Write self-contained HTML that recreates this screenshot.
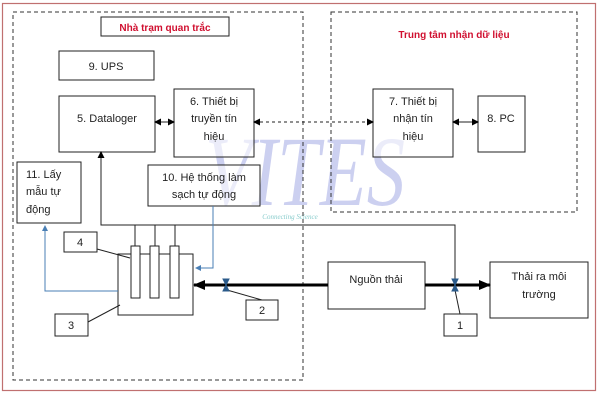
<!DOCTYPE html><html><head><meta charset="utf-8"><style>
body{margin:0;width:602px;height:401px;background:#fff;overflow:hidden;font-family:"Liberation Sans",sans-serif}
</style></head><body>
<svg width="602" height="401" viewBox="0 0 602 401" xmlns="http://www.w3.org/2000/svg" font-family="Liberation Sans, sans-serif">
<defs>
<marker id="a" markerUnits="userSpaceOnUse" markerWidth="12" markerHeight="10" refX="11" refY="5" orient="auto"><path d="M0,0L12,5L0,10z" fill="#000"/></marker>
<marker id="b" markerUnits="userSpaceOnUse" markerWidth="6" markerHeight="6" refX="5" refY="3" orient="auto"><path d="M0,0L6,3L0,6z" fill="#4a7fb5"/></marker>
<marker id="t" markerUnits="userSpaceOnUse" markerWidth="7" markerHeight="7" refX="6" refY="3.5" orient="auto-start-reverse"><path d="M0,0L7,3.5L0,7z" fill="#000"/></marker>
</defs>
<rect x="2.5" y="3.5" width="593" height="387" fill="none" stroke="#c07070" stroke-width="1.2"/>
<text x="305" y="205" font-family="Liberation Serif, serif" font-style="italic" font-size="100" fill="#c4c8ee" text-anchor="middle" opacity="0.85" textLength="200" lengthAdjust="spacingAndGlyphs">VITES</text>
<text x="290" y="219" font-family="Liberation Serif, serif" font-style="italic" font-size="7" fill="#8cc" text-anchor="middle">Connecting Science</text>
<g fill="none" stroke="#333" stroke-dasharray="4,3">
<rect x="13" y="12" width="290" height="368"/>
<rect x="331" y="12" width="246" height="200"/>
</g>
<g fill="#fff" stroke="#222" stroke-width="1">
<rect x="101" y="17" width="128" height="19"/>
<rect x="59" y="51" width="95" height="29"/>
<rect x="59" y="96" width="96" height="56"/>
<rect x="174" y="89" width="80" height="68" fill-opacity="0.6"/>
<rect x="373" y="89" width="80" height="68" fill-opacity="0.6"/>
<rect x="478" y="96" width="47" height="56"/>
<rect x="17" y="162" width="64" height="61"/>
<rect x="148" y="165" width="112" height="41" fill-opacity="0.6"/>
<rect x="328" y="262" width="97" height="47"/>
<rect x="490" y="262" width="98" height="56"/>
<rect x="64" y="232" width="33" height="20"/>
<rect x="55" y="314" width="33" height="22"/>
<rect x="246" y="300" width="32" height="20"/>
<rect x="444" y="314" width="33" height="22"/>
</g>
<g font-size="11" fill="#222" text-anchor="middle">
<text x="165" y="31" fill="#d01030" font-weight="bold" font-size="10">Nhà trạm quan trắc</text>
<text x="454" y="38" fill="#d01030" font-weight="bold" font-size="10">Trung tâm nhận dữ liệu</text>
<text x="106" y="70">9. UPS</text>
<text x="107" y="122">5. Dataloger</text>
<text x="214" y="105">6. Thiết bị</text><text x="214" y="122">truyền tín</text><text x="214" y="140">hiệu</text>
<text x="413" y="105">7. Thiết bị</text><text x="413" y="122">nhận tín</text><text x="413" y="140">hiệu</text>
<text x="501" y="122">8. PC</text>
<text x="204" y="181">10. Hệ thống làm</text><text x="204" y="198">sạch tự động</text>
<text x="376" y="283">Nguồn thải</text>
<text x="539" y="280">Thải ra môi</text><text x="539" y="298">trường</text>
<text x="80" y="246">4</text><text x="71" y="329">3</text><text x="262" y="314">2</text><text x="460" y="329">1</text>
</g>
<g font-size="11" fill="#222"><text x="26" y="178">11. Lấy</text><text x="26" y="195">mẫu tự</text><text x="26" y="213">động</text></g>
<g stroke="#222" fill="none" stroke-width="1">
<line x1="155" y1="122" x2="174" y2="122" marker-end="url(#t)" marker-start="url(#t)"/>
<line x1="453" y1="122" x2="478" y2="122" marker-end="url(#t)" marker-start="url(#t)"/>
<line x1="254" y1="122" x2="373" y2="122" stroke-dasharray="3,3" marker-end="url(#t)" marker-start="url(#t)"/>
<polyline points="455,285 455,225 101,225 101,152" marker-end="url(#t)"/>
<line x1="135" y1="225" x2="135" y2="246"/><line x1="155" y1="225" x2="155" y2="246"/><line x1="175" y1="225" x2="175" y2="246"/>
<rect x="118" y="254" width="75" height="61" fill="#fff"/>
<rect x="131" y="246" width="9" height="52" fill="#fff"/><rect x="150" y="246" width="9" height="52" fill="#fff"/><rect x="170" y="246" width="9" height="52" fill="#fff"/>
<line x1="97" y1="249" x2="130" y2="258"/>
<line x1="88" y1="322" x2="120" y2="305"/>
<line x1="262" y1="300" x2="227" y2="290"/>
<line x1="460" y1="314" x2="455" y2="290"/>
</g>
<g stroke="#4a7fb5" fill="none" stroke-width="1">
<polyline points="213,206 213,268 196,268" marker-end="url(#b)"/>
<polyline points="118,291 45,291 45,226" marker-end="url(#b)"/>
</g>
<line x1="328" y1="285" x2="194" y2="285" stroke="#000" stroke-width="3" marker-end="url(#a)"/>
<line x1="425" y1="285" x2="490" y2="285" stroke="#000" stroke-width="3" marker-end="url(#a)"/>
<path d="M223,279h6l-6,12h6z" fill="#2a5a8a" stroke="#2a5a8a"/>
<path d="M452,279h6l-6,12h6z" fill="#2a5a8a" stroke="#2a5a8a"/>
</svg></body></html>
